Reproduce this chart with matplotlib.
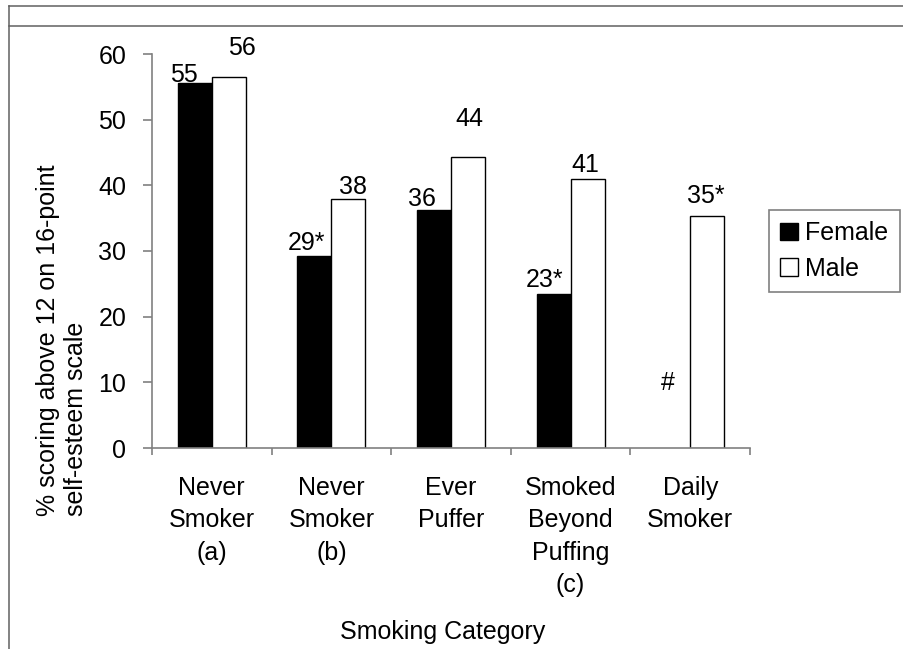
import matplotlib.pyplot as plt
import numpy as np
from matplotlib.lines import Line2D

categories = ['Never\nSmoker\n(a)', 'Never\nSmoker\n(b)', 'Ever\nPuffer',
              'Smoked\nBeyond\nPuffing\n(c)', 'Daily\nSmoker']
female = [55.6, 29.3, 36.3, 23.4, np.nan]
male = [56.5, 37.9, 44.3, 41.0, 35.4]
female_labels = ['55', '29*', '36', '23*', '#']
male_labels = ['56', '38', '44', '41', '35*']

plt.rcParams['font.family'] = ['Liberation Sans', 'DejaVu Sans']
fs = 18

W, H = 904, 649
fig = plt.figure(figsize=(W / 100, H / 100), dpi=100)
ax = fig.add_axes([152 / W, 1 - 448 / H, 598 / W, 394 / H])

x = np.arange(len(categories))
w = 0.285
ax.bar(x - w / 2, female, w, color='black', edgecolor='black', lw=1, label='Female')
ax.bar(x + w / 2, male, w, color='white', edgecolor='black', lw=1, label='Male')

# label offsets in pixels (dx, dy above bar top, baseline)
f_off = [(-11, 1), (-8, 6), (-12, 4), (-9, 7), (-5, 58)]
m_off = [(13, 22), (5, 5), (1, 31), (-2, 7), (-1, 13)]
for i in range(len(categories)):
    yf = 0 if np.isnan(female[i]) else female[i]
    ax.annotate(female_labels[i], (x[i] - w / 2, yf),
                xytext=(f_off[i][0] * 0.72, f_off[i][1] * 0.72),
                textcoords='offset points', ha='center', va='baseline', fontsize=fs)
    ax.annotate(male_labels[i], (x[i] + w / 2, male[i]),
                xytext=(m_off[i][0] * 0.72, m_off[i][1] * 0.72),
                textcoords='offset points', ha='center', va='baseline', fontsize=fs)

ax.set_xlim(-0.5, len(categories) - 0.5)
ax.set_ylim(0, 60)
ax.set_yticks(np.arange(0, 61, 10))
ax.set_xticks(x)
ax.set_xticklabels(categories, linespacing=1.45)
ax.set_xticks(np.arange(-0.5, len(categories), 1), minor=True)

for s in ['top', 'right']:
    ax.spines[s].set_visible(False)
for s in ['left', 'bottom']:
    ax.spines[s].set_color('#808080')
    ax.spines[s].set_linewidth(1.2)

ax.tick_params(axis='y', length=6.5, width=1.2, color='#808080', pad=12, labelsize=fs)
ax.tick_params(axis='x', which='major', length=0, pad=20, labelsize=fs)
ax.tick_params(axis='x', which='minor', length=5, width=1.2, color='#808080')

fig.text(443 / W, 1 - 620 / H, 'Smoking Category', ha='center', va='top', fontsize=fs)
fig.text(62 / W, 1 - 516 / H, '% scoring above 12 on 16-point\nself-esteem scale',
         rotation=90, ha='center', va='bottom', multialignment='left',
         fontsize=fs, linespacing=1.2)

leg = ax.legend(loc='upper left', bbox_to_anchor=(769 / W, 1 - 210 / H),
                bbox_transform=fig.transFigure, fancybox=False, edgecolor='#606060',
                fontsize=fs, handlelength=0.7, handleheight=0.7, handletextpad=0.3,
                borderpad=0.45, labelspacing=0.45, borderaxespad=0)
leg.get_frame().set_linewidth(1.2)

# outer frame lines
fc = '#606060'
fig.add_artist(Line2D([9 / W, 1], [1 - 6 / H, 1 - 6 / H], color=fc, lw=1.1, transform=fig.transFigure))
fig.add_artist(Line2D([9 / W, 1], [1 - 26 / H, 1 - 26 / H], color=fc, lw=1.1, transform=fig.transFigure))
fig.add_artist(Line2D([9 / W, 9 / W], [0, 1 - 6 / H], color=fc, lw=1.1, transform=fig.transFigure))

fig.savefig('out.png', dpi=100)
